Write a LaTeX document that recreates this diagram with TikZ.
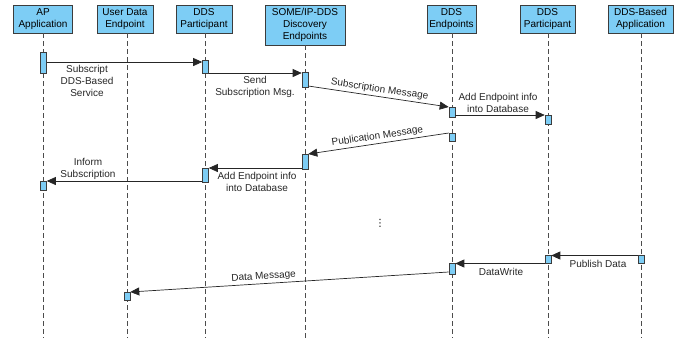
\documentclass[tikz,border=0pt]{standalone}
\usepackage{fontspec}
\setmainfont{Liberation Sans}
\newfontfamily\symbolfont{DejaVu Sans}
\usetikzlibrary{arrows.meta}
\definecolor{boxblue}{RGB}{125,205,245}
\definecolor{edge}{RGB}{60,60,60}
\tikzset{
  head/.style={draw=edge, fill=boxblue, line width=0.7pt, align=center, inner sep=1pt,
    minimum height=28pt, font=\fontsize{10}{12}\selectfont},
  actbox/.style={draw=edge, fill=boxblue, line width=0.6pt, minimum width=6pt, inner sep=0pt},
  life/.style={draw=black!70, line width=0.6pt, dash pattern=on 5pt off 3pt},
  msg/.style={draw=black!85, line width=0.7pt, -{Triangle[length=9pt,width=8pt]}},
  lbl/.style={font=\fontsize{10}{12}\selectfont, align=center, text=black!85, inner sep=1pt}
}
\begin{document}
\begin{tikzpicture}[x=1pt,y=-1pt]
\useasboundingbox (0,0) rectangle (680,338);

% lifeline heads
\node[head, minimum width=59pt] (ap)  at (43,19)  {AP\\Application};
\node[head, minimum width=56pt] (ud)  at (125,19) {User Data\\Endpoint};
\node[head, minimum width=56pt] (dp1) at (204,19) {DDS\\Participant};
\node[head, minimum width=80pt, minimum height=40pt] (so) at (305,25) {SOME/IP-DDS\\Discovery\\Endpoints};
\node[head, minimum width=49pt] (ep)  at (451.5,19) {DDS\\Endpoints};
\node[head, minimum width=55pt] (dp2) at (547.5,19) {DDS\\Participant};
\node[head, minimum width=65pt] (db)  at (640.5,19) {DDS-Based\\Application};

% lifelines
\foreach \n/\x in {ap/43.5, ud/127, dp1/205.5, so/305, ep/452, dp2/548, db/641}
  \draw[life] (\n.south -| \x,0) -- (\x,338);

% activation bars
\node[actbox, minimum height=21pt] (apA)  at (43.5,62.5)  {};
\node[actbox, minimum height=13pt] (dp1A) at (205.5,66.5) {};
\node[actbox, minimum height=15pt] (soA)  at (305,79.5)   {};
\node[actbox, minimum height=10pt] (epA)  at (452,112)    {};
\node[actbox, minimum height=9pt]  (dp2A) at (548,119.5)  {};
\node[actbox, minimum height=8pt]  (epB)  at (452,137)    {};
\node[actbox, minimum height=15pt] (soB)  at (305,161.5)  {};
\node[actbox, minimum height=14pt] (dp1B) at (205.5,175)  {};
\node[actbox, minimum height=9pt]  (apB)  at (43.5,185.5) {};
\node[actbox, minimum height=8pt]  (dbA)  at (641,259)    {};
\node[actbox, minimum height=8pt]  (dp2B) at (548,259.5)  {};
\node[actbox, minimum height=11pt] (epC)  at (452,268.5)  {};
\node[actbox, minimum height=8pt]  (udA)  at (127,296)    {};

% messages
\draw[msg] (apA.east |- 0,62) -- (dp1A.west |- 0,62);
\node[lbl] at (87,81) {Subscript\\DDS-Based\\Service};

\draw[msg] (dp1A.east |- 0,73) -- (soA.west |- 0,73);
\node[lbl] at (255,87) {Send\\Subscription Msg.};

\draw[msg] (soA.east |- 0,86) -- node[lbl, midway, above, sloped, yshift=1pt] {Subscription Message} (epA.west |- 0,107);

\draw[msg] (epA.east |- 0,115) -- (dp2A.west |- 0,115);
\node[lbl] at (498,102.5) {Add Endpoint info\\into Database};

\draw[msg] (epB.west |- 0,133) -- node[lbl, midway, above, sloped, yshift=1pt] {Publication Message} (soB.east |- 0,154);

\draw[msg] (soB.west |- 0,168) -- (dp1B.east |- 0,168);
\node[lbl] at (257,182) {Add Endpoint info\\into Database};

\draw[msg] (dp1B.west |- 0,181) -- (apB.east |- 0,181);
\node[lbl] at (88,169) {Inform\\Subscription};

% elided steps
\node[font=\symbolfont\fontsize{10}{12}\selectfont, inner sep=0pt] (dots) at (380,223) {⋮};

\draw[msg] (dbA.west |- 0,255.5) -- (dp2B.east |- 0,255.5);
\node[lbl] at (598,264) {Publish Data};

\draw[msg] (dp2B.west |- 0,263.5) -- (epC.east |- 0,263.5);
\node[lbl] at (501,272) {DataWrite};

\draw[msg] (epC.west |- 0,272) -- node[lbl, pos=0.58, above, sloped, yshift=1pt] {Data Message} (udA.east |- 0,292);
\end{tikzpicture}
\end{document}
